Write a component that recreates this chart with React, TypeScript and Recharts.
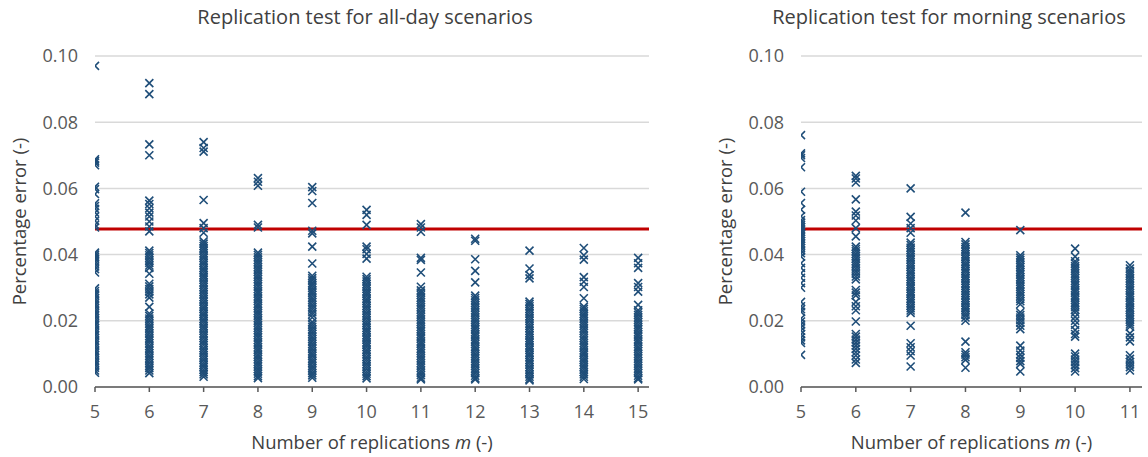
import React from 'react';
import { ScatterChart, Scatter, XAxis, YAxis, CartesianGrid, ReferenceLine } from 'recharts';

// Percentage error per number of replications m
const allDayReplications = [5, 6, 7, 8, 9, 10, 11, 12, 13, 14, 15];
const morningReplications = [5, 6, 7, 8, 9, 10, 11];
const errorTicks = [0, 0.02, 0.04, 0.06, 0.08, 0.1];
const threshold = 0.0477;

const allDay5 = [0.0970, 0.0688, 0.0683, 0.0678, 0.0670, 0.0605, 0.0598, 0.0583, 0.0555, 0.0547, 0.0538, 0.0527, 0.0515, 0.0502, 0.0490, 0.0482, 0.0406, 0.0400, 0.0394, 0.0388, 0.0380, 0.0372, 0.0364, 0.0356, 0.0346, 0.0298, 0.0290, 0.0283, 0.0276, 0.0268, 0.0260, 0.0253, 0.0246, 0.0238, 0.0230, 0.0223, 0.0216, 0.0208, 0.0200, 0.0193, 0.0186, 0.0178, 0.0170, 0.0163, 0.0156, 0.0148, 0.0140, 0.0133, 0.0126, 0.0118, 0.0110, 0.0103, 0.0096, 0.0088, 0.0080, 0.0073, 0.0066, 0.0058, 0.0050, 0.0043];
const allDay6 = [0.0918, 0.0885, 0.0733, 0.0700, 0.0563, 0.0553, 0.0540, 0.0527, 0.0515, 0.0500, 0.0485, 0.0470, 0.0412, 0.0405, 0.0398, 0.0390, 0.0382, 0.0375, 0.0367, 0.0360, 0.0342, 0.0312, 0.0304, 0.0296, 0.0288, 0.0280, 0.0270, 0.0242, 0.0222, 0.0215, 0.0207, 0.0200, 0.0192, 0.0184, 0.0177, 0.0170, 0.0162, 0.0154, 0.0147, 0.0140, 0.0132, 0.0124, 0.0117, 0.0110, 0.0102, 0.0094, 0.0087, 0.0080, 0.0072, 0.0064, 0.0057, 0.0050, 0.0042];
const allDay7 = [0.0740, 0.0722, 0.0711, 0.0565, 0.0495, 0.0480, 0.0466, 0.0440, 0.0433, 0.0426, 0.0419, 0.0412, 0.0404, 0.0397, 0.0390, 0.0382, 0.0375, 0.0368, 0.0360, 0.0353, 0.0346, 0.0338, 0.0331, 0.0324, 0.0316, 0.0309, 0.0302, 0.0294, 0.0287, 0.0280, 0.0272, 0.0265, 0.0258, 0.0250, 0.0243, 0.0236, 0.0228, 0.0221, 0.0214, 0.0206, 0.0199, 0.0192, 0.0184, 0.0177, 0.0170, 0.0162, 0.0155, 0.0148, 0.0140, 0.0133, 0.0126, 0.0118, 0.0111, 0.0104, 0.0096, 0.0089, 0.0082, 0.0074, 0.0067, 0.0060, 0.0052, 0.0045, 0.0038, 0.0031];
const allDay8 = [0.0631, 0.0620, 0.0608, 0.0490, 0.0482, 0.0406, 0.0399, 0.0392, 0.0384, 0.0377, 0.0370, 0.0362, 0.0355, 0.0348, 0.0340, 0.0333, 0.0326, 0.0318, 0.0311, 0.0304, 0.0296, 0.0289, 0.0282, 0.0274, 0.0267, 0.0260, 0.0252, 0.0245, 0.0238, 0.0230, 0.0223, 0.0216, 0.0208, 0.0201, 0.0194, 0.0186, 0.0179, 0.0172, 0.0164, 0.0157, 0.0150, 0.0142, 0.0135, 0.0128, 0.0120, 0.0113, 0.0106, 0.0098, 0.0091, 0.0084, 0.0076, 0.0069, 0.0062, 0.0054, 0.0047, 0.0040, 0.0033, 0.0027];
const allDay9 = [0.0604, 0.0592, 0.0556, 0.0472, 0.0464, 0.0424, 0.0373, 0.0336, 0.0329, 0.0322, 0.0314, 0.0307, 0.0300, 0.0292, 0.0285, 0.0278, 0.0270, 0.0263, 0.0256, 0.0248, 0.0241, 0.0234, 0.0226, 0.0219, 0.0210, 0.0196, 0.0189, 0.0182, 0.0174, 0.0167, 0.0160, 0.0152, 0.0145, 0.0138, 0.0130, 0.0123, 0.0116, 0.0108, 0.0101, 0.0094, 0.0086, 0.0079, 0.0072, 0.0064, 0.0057, 0.0050, 0.0042, 0.0035, 0.0028];
const allDay10 = [0.0535, 0.0520, 0.0490, 0.0424, 0.0416, 0.0402, 0.0388, 0.0333, 0.0326, 0.0319, 0.0311, 0.0304, 0.0297, 0.0289, 0.0282, 0.0275, 0.0267, 0.0260, 0.0253, 0.0245, 0.0238, 0.0231, 0.0223, 0.0216, 0.0209, 0.0201, 0.0194, 0.0187, 0.0179, 0.0172, 0.0165, 0.0157, 0.0150, 0.0143, 0.0135, 0.0128, 0.0121, 0.0113, 0.0106, 0.0099, 0.0091, 0.0084, 0.0077, 0.0069, 0.0062, 0.0055, 0.0047, 0.0040, 0.0033, 0.0026];
const allDay11 = [0.0492, 0.0482, 0.0469, 0.0390, 0.0384, 0.0346, 0.0303, 0.0292, 0.0285, 0.0278, 0.0270, 0.0263, 0.0256, 0.0248, 0.0241, 0.0234, 0.0226, 0.0219, 0.0212, 0.0204, 0.0197, 0.0190, 0.0182, 0.0175, 0.0168, 0.0160, 0.0153, 0.0146, 0.0138, 0.0131, 0.0124, 0.0116, 0.0109, 0.0102, 0.0094, 0.0087, 0.0080, 0.0072, 0.0065, 0.0058, 0.0050, 0.0043, 0.0036, 0.0028, 0.0023];
const allDay12 = [0.0448, 0.0442, 0.0386, 0.0351, 0.0316, 0.0276, 0.0269, 0.0262, 0.0254, 0.0247, 0.0240, 0.0232, 0.0225, 0.0218, 0.0210, 0.0203, 0.0196, 0.0188, 0.0181, 0.0174, 0.0166, 0.0159, 0.0152, 0.0144, 0.0137, 0.0130, 0.0122, 0.0115, 0.0108, 0.0100, 0.0093, 0.0086, 0.0078, 0.0071, 0.0064, 0.0056, 0.0049, 0.0042, 0.0034, 0.0027, 0.0023];
const allDay13 = [0.0412, 0.0358, 0.0338, 0.0328, 0.0258, 0.0251, 0.0244, 0.0236, 0.0229, 0.0222, 0.0214, 0.0207, 0.0200, 0.0192, 0.0185, 0.0178, 0.0170, 0.0163, 0.0156, 0.0148, 0.0141, 0.0134, 0.0126, 0.0119, 0.0112, 0.0104, 0.0097, 0.0090, 0.0082, 0.0075, 0.0068, 0.0060, 0.0053, 0.0046, 0.0038, 0.0031, 0.0024, 0.0020];
const allDay14 = [0.0420, 0.0398, 0.0385, 0.0332, 0.0318, 0.0302, 0.0268, 0.0243, 0.0236, 0.0229, 0.0221, 0.0214, 0.0207, 0.0199, 0.0192, 0.0185, 0.0177, 0.0170, 0.0163, 0.0155, 0.0148, 0.0141, 0.0133, 0.0126, 0.0119, 0.0111, 0.0104, 0.0097, 0.0089, 0.0082, 0.0075, 0.0067, 0.0060, 0.0053, 0.0045, 0.0038, 0.0031, 0.0024];
const allDay15 = [0.0390, 0.0374, 0.0360, 0.0314, 0.0302, 0.0288, 0.0248, 0.0232, 0.0225, 0.0218, 0.0210, 0.0203, 0.0196, 0.0188, 0.0181, 0.0174, 0.0166, 0.0159, 0.0152, 0.0144, 0.0137, 0.0130, 0.0122, 0.0115, 0.0108, 0.0100, 0.0093, 0.0086, 0.0078, 0.0071, 0.0064, 0.0056, 0.0049, 0.0042, 0.0034, 0.0027, 0.0023];

const morning5 = [0.0761, 0.0706, 0.0700, 0.0692, 0.0664, 0.0590, 0.0556, 0.0536, 0.0516, 0.0504, 0.0497, 0.0490, 0.0483, 0.0476, 0.0469, 0.0462, 0.0455, 0.0448, 0.0441, 0.0434, 0.0427, 0.0420, 0.0412, 0.0404, 0.0394, 0.0374, 0.0360, 0.0344, 0.0330, 0.0314, 0.0300, 0.0257, 0.0244, 0.0235, 0.0227, 0.0207, 0.0198, 0.0189, 0.0180, 0.0170, 0.0160, 0.0150, 0.0141, 0.0133, 0.0097];
const morning6 = [0.0638, 0.0630, 0.0618, 0.0567, 0.0530, 0.0518, 0.0503, 0.0480, 0.0455, 0.0424, 0.0417, 0.0410, 0.0402, 0.0395, 0.0388, 0.0380, 0.0373, 0.0366, 0.0358, 0.0350, 0.0342, 0.0334, 0.0325, 0.0293, 0.0285, 0.0277, 0.0257, 0.0244, 0.0232, 0.0198, 0.0160, 0.0152, 0.0143, 0.0134, 0.0125, 0.0115, 0.0105, 0.0095, 0.0083, 0.0073];
const morning7 = [0.0600, 0.0514, 0.0494, 0.0480, 0.0466, 0.0436, 0.0429, 0.0421, 0.0414, 0.0407, 0.0399, 0.0392, 0.0385, 0.0377, 0.0370, 0.0363, 0.0355, 0.0348, 0.0341, 0.0333, 0.0326, 0.0319, 0.0311, 0.0304, 0.0297, 0.0289, 0.0282, 0.0275, 0.0267, 0.0260, 0.0253, 0.0245, 0.0238, 0.0231, 0.0224, 0.0185, 0.0132, 0.0120, 0.0108, 0.0095, 0.0062];
const morning8 = [0.0527, 0.0438, 0.0431, 0.0423, 0.0416, 0.0409, 0.0401, 0.0394, 0.0387, 0.0379, 0.0372, 0.0365, 0.0357, 0.0350, 0.0343, 0.0335, 0.0328, 0.0321, 0.0313, 0.0306, 0.0299, 0.0291, 0.0284, 0.0277, 0.0269, 0.0262, 0.0255, 0.0247, 0.0240, 0.0233, 0.0225, 0.0218, 0.0210, 0.0200, 0.0137, 0.0105, 0.0098, 0.0090, 0.0082, 0.0058];
const morning9 = [0.0474, 0.0398, 0.0391, 0.0384, 0.0376, 0.0369, 0.0362, 0.0354, 0.0347, 0.0340, 0.0332, 0.0325, 0.0318, 0.0310, 0.0303, 0.0296, 0.0288, 0.0281, 0.0274, 0.0266, 0.0259, 0.0250, 0.0226, 0.0218, 0.0210, 0.0202, 0.0194, 0.0185, 0.0175, 0.0125, 0.0110, 0.0098, 0.0088, 0.0078, 0.0070, 0.0047];
const morning10 = [0.0418, 0.0394, 0.0380, 0.0373, 0.0365, 0.0358, 0.0351, 0.0343, 0.0336, 0.0329, 0.0321, 0.0314, 0.0307, 0.0299, 0.0292, 0.0285, 0.0277, 0.0270, 0.0263, 0.0255, 0.0248, 0.0241, 0.0233, 0.0225, 0.0212, 0.0200, 0.0188, 0.0172, 0.0160, 0.0152, 0.0101, 0.0092, 0.0083, 0.0075, 0.0066, 0.0057, 0.0047];
const morning11 = [0.0368, 0.0358, 0.0350, 0.0343, 0.0336, 0.0328, 0.0321, 0.0314, 0.0306, 0.0299, 0.0292, 0.0284, 0.0277, 0.0270, 0.0262, 0.0255, 0.0248, 0.0240, 0.0233, 0.0226, 0.0218, 0.0211, 0.0204, 0.0196, 0.0189, 0.0182, 0.0162, 0.0150, 0.0138, 0.0096, 0.0085, 0.0076, 0.0068, 0.0060, 0.0050];

const allDayColumns = [allDay5, allDay6, allDay7, allDay8, allDay9, allDay10, allDay11, allDay12, allDay13, allDay14, allDay15];
const morningColumns = [morning5, morning6, morning7, morning8, morning9, morning10, morning11];

const toPoints = (ms: number[], cols: number[][]) =>
  ms.flatMap((m, i) => cols[i].map((err) => ({ m, err })));

const FONT = '"Open Sans", sans-serif';
const BLUE = '#1f4e79';

const Cross = (props: any) => {
  const { cx, cy } = props;
  if (cx == null || cy == null) return null;
  const s = 4;
  return (
    <path
      d={`M${cx - s},${cy - s}L${cx + s},${cy + s}M${cx - s},${cy + s}L${cx + s},${cy - s}`}
      stroke={BLUE}
      strokeWidth={1.6}
      fill="none"
    />
  );
};

const XTitle = (props: any) => {
  const { x, y, width } = props.viewBox;
  return (
    <text x={x + width / 2} y={y + 62} textAnchor="middle" fontSize={18.5} fill="#404040" fontFamily={FONT}>
      Number of replications <tspan fontStyle="italic">m</tspan> (-)
    </text>
  );
};

const YTitle = (cx: number) => (props: any) => {
  const { y, height } = props.viewBox;
  const cy = y + height / 2;
  return (
    <text
      x={cx}
      y={cy}
      transform={`rotate(-90, ${cx}, ${cy})`}
      textAnchor="middle"
      dominantBaseline="central"
      fontSize={18.5}
      fill="#404040"
      fontFamily={FONT}
    >
      Percentage error (-)
    </text>
  );
};

interface PanelProps {
  title: string;
  titleX: number;
  left: number;
  width: number;
  yAxisWidth: number;
  rightMargin: number;
  yTitleX: number;
  ms: number[];
  cols: number[][];
  xMax: number;
}

function Panel({ title, titleX, left, width, yAxisWidth, rightMargin, yTitleX, ms, cols, xMax }: PanelProps) {
  const points = toPoints(ms, cols);
  return (
    <>
      <div
        style={{
          position: 'absolute',
          left: titleX - 250,
          width: 500,
          top: 3,
          textAlign: 'center',
          fontFamily: FONT,
          fontSize: 20,
          color: '#404040',
          whiteSpace: 'nowrap',
        }}
      >
        {title}
      </div>
      <div style={{ position: 'absolute', left, top: 0 }}>
        <ScatterChart width={width} height={457} margin={{ top: 56, right: rightMargin, bottom: 10, left: 0 }}>
          <CartesianGrid vertical={false} stroke="#d9d9d9" strokeWidth={1.5} />
          <XAxis
            type="number"
            dataKey="m"
            domain={[5, xMax]}
            ticks={ms}
            interval={0}
            allowDataOverflow
            height={60}
            axisLine={{ stroke: '#595959', strokeWidth: 1.5 }}
            tickLine={{ stroke: '#595959', strokeWidth: 1.5 }}
            tickSize={5}
            tickMargin={13}
            tick={{ fontSize: 18, fill: '#595959', fontFamily: FONT }}
            label={{ content: XTitle }}
          />
          <YAxis
            type="number"
            dataKey="err"
            domain={[0, 0.1]}
            ticks={errorTicks}
            interval={0}
            width={yAxisWidth}
            axisLine={false}
            tickLine={false}
            tickSize={0}
            tickMargin={17}
            tickFormatter={(v: number) => v.toFixed(2)}
            tick={{ fontSize: 18, fill: '#595959', fontFamily: FONT }}
            label={{ content: YTitle(yTitleX) }}
          />
          <Scatter data={points} shape={Cross} isAnimationActive={false} />
          <ReferenceLine y={threshold} stroke="#c00000" strokeWidth={3} />
        </ScatterChart>
      </div>
    </>
  );
}

export default function App() {
  return (
    <div style={{ position: 'absolute', left: 0, top: 0, width: 1148, height: 457, background: '#fff' }}>
      <Panel
        title="Replication test for all-day scenarios"
        titleX={365}
        left={0}
        width={660}
        yAxisWidth={95}
        rightMargin={11}
        yTitleX={18.5}
        ms={allDayReplications}
        cols={allDayColumns}
        xMax={15.2}
      />
      <Panel
        title="Replication test for morning scenarios"
        titleX={949}
        left={700}
        width={448}
        yAxisWidth={101}
        rightMargin={6}
        yTitleX={24}
        ms={morningReplications}
        cols={morningColumns}
        xMax={11.22}
      />
    </div>
  );
}
